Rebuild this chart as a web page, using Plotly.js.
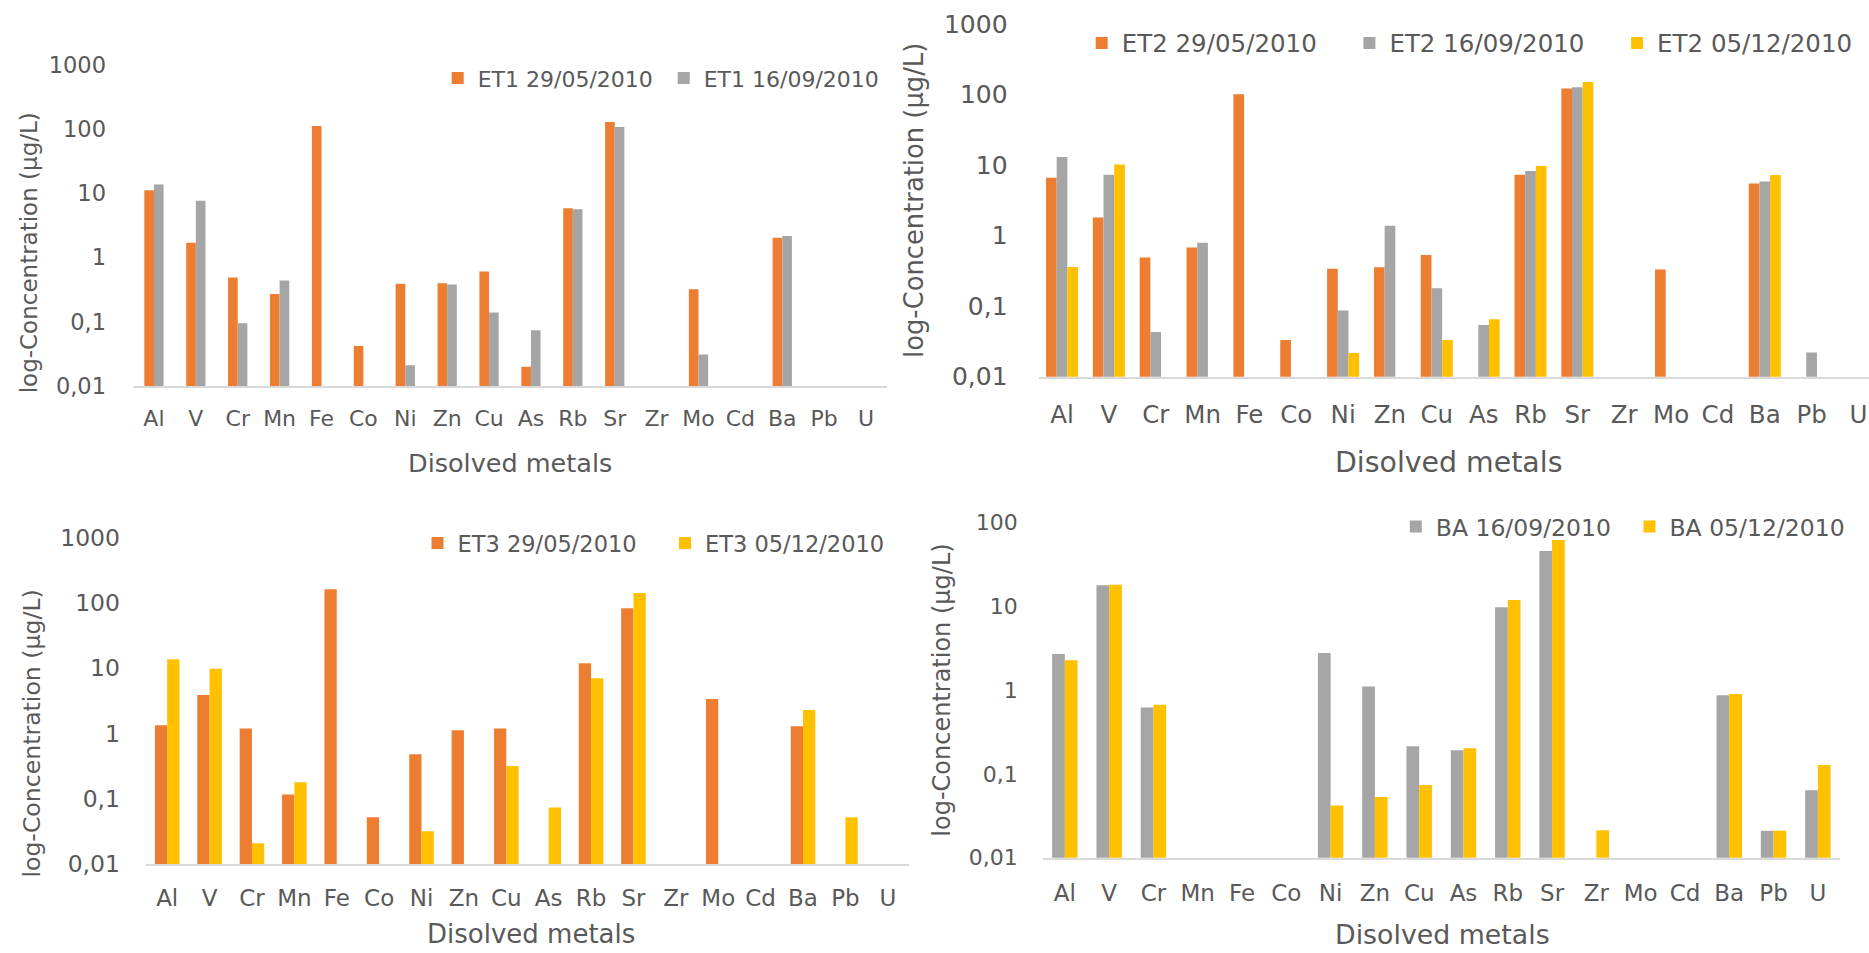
<!DOCTYPE html>
<html>
<head>
<meta charset="utf-8">
<script src="https://cdn.plot.ly/plotly-3.0.1.min.js"></script>
<style>html,body{margin:0;padding:0;background:#fff;}#chart{width:1869px;height:953px;}</style>
</head>
<body>
<div id="chart"></div>
<script>
// ---------- data ----------
const metals = ['Al','V','Cr','Mn','Fe','Co','Ni','Zn','Cu','As','Rb','Sr','Zr','Mo','Cd','Ba','Pb','U'];
const yTickVals = [0.01, 0.1, 1, 10, 100, 1000];
const yTickText = ['0,01', '0,1', '1', '10', '100', '1000'];

const et1_2905 = [11.2, 1.7, 0.49, 0.27, 112, 0.042, 0.39, 0.40, 0.61, 0.02, 5.85, 129, null, 0.32, null, 2.04, null, null];
const et1_1609 = [13.8, 7.7, 0.095, 0.44, null, null, 0.021, 0.38, 0.139, 0.074, 5.65, 108, null, 0.031, null, 2.17, null, null];

const et2_2905 = [6.6, 1.8, 0.49, 0.68, 101, 0.033, 0.34, 0.355, 0.53, null, 7.3, 122, null, 0.33, null, 5.47, null, null];
const et2_1609 = [13.0, 7.3, 0.043, 0.79, null, null, 0.087, 1.38, 0.18, 0.054, 8.26, 127, null, null, null, 5.84, 0.022, null];
const et2_0512 = [0.36, 10.2, null, null, null, null, 0.0216, null, 0.033, 0.065, 9.7, 151, null, null, null, 7.25, null, null];

const et3_2905 = [1.33, 3.86, 1.19, 0.116, 160, 0.052, 0.48, 1.11, 1.18, null, 11.8, 82, null, 3.35, null, 1.28, null, null];
const et3_0512 = [13.6, 9.77, 0.0207, 0.178, null, null, 0.0316, null, 0.316, 0.073, 6.95, 141, null, null, null, 2.28, 0.052, null];

const ba_1609 = [2.71, 17.9, 0.62, null, null, null, 2.78, 1.107, 0.214, 0.192, 9.78, 46, null, null, null, 0.87, 0.021, 0.064];
const ba_0512 = [2.28, 18.1, 0.67, null, null, null, 0.042, 0.053, 0.074, 0.203, 11.9, 62, 0.0213, null, null, 0.90, 0.021, 0.128];

// ---------- style ----------
const W = 1869, H = 953;
const ORANGE = '#ED7D31', GRAY = '#A5A5A5', YELLOW = '#FFC000';
const TXT = '#595959';
const FAM = 'DejaVu Sans, Verdana, sans-serif';
const px = v => v / W;
const py = v => 1 - v / H;

function bar(name, y, color, xa, ya, lg, width, offset, lw) {
  const t = {type: 'bar', name: name, x: metals, y: y, xaxis: xa, yaxis: ya,
    legend: lg, width: width, offset: offset,
    marker: {color: color, line: {width: 0}}, hoverinfo: 'x+y+name'};
  if (lw) t.legendwidth = lw;
  return t;
}

const data = [
  bar('ET1 29/05/2010', et1_2905, ORANGE, 'x', 'y', 'legend', 0.23, -0.23),
  bar('ET1 16/09/2010', et1_1609, GRAY, 'x', 'y', 'legend', 0.23, 0),
  bar('ET2 29/05/2010', et2_2905, ORANGE, 'x2', 'y2', 'legend2', 0.228, -0.342),
  bar('ET2 16/09/2010', et2_1609, GRAY, 'x2', 'y2', 'legend2', 0.228, -0.114),
  bar('ET2 05/12/2010', et2_0512, YELLOW, 'x2', 'y2', 'legend2', 0.228, 0.114, 196),
  bar('ET3 29/05/2010', et3_2905, ORANGE, 'x3', 'y3', 'legend3', 0.29, -0.29),
  bar('ET3 05/12/2010', et3_0512, YELLOW, 'x3', 'y3', 'legend3', 0.29, 0),
  bar('BA 16/09/2010', ba_1609, GRAY, 'x4', 'y4', 'legend4', 0.287, -0.287),
  bar('BA 05/12/2010', ba_0512, YELLOW, 'x4', 'y4', 'legend4', 0.287, 0)
];

function xax(domain, range, anchor, size, standoff) {
  return {domain: domain, range: range, anchor: anchor, type: 'category',
    categoryorder: 'array', categoryarray: metals,
    showgrid: false, zeroline: false, ticks: '', showline: true,
    linecolor: '#D9D9D9', linewidth: 2, fixedrange: true,
    tickfont: {family: FAM, size: size, color: TXT}, ticklabelstandoff: standoff};
}
function yax(domain, range, anchor, size, standoff) {
  return {domain: domain, range: range, anchor: anchor, type: 'log',
    tickmode: 'array', tickvals: yTickVals, ticktext: yTickText,
    showgrid: false, zeroline: false, ticks: '', showline: false, fixedrange: true,
    tickfont: {family: FAM, size: size, color: TXT}, ticklabelstandoff: standoff};
}
function leg(x, y, size, ew) {
  return {x: px(x), y: py(y), xanchor: 'left', yanchor: 'middle', orientation: 'h',
    bgcolor: 'rgba(0,0,0,0)', borderwidth: 0, entrywidth: ew, entrywidthmode: 'pixels',
    font: {family: FAM, size: size, color: TXT}, traceorder: 'normal'};
}
function ann(text, x, y, size, angle) {
  return {text: text, x: px(x), y: py(y), xref: 'paper', yref: 'paper',
    xanchor: 'center', yanchor: 'middle', showarrow: false, textangle: angle || 0,
    font: {family: FAM, size: size, color: TXT}};
}

const layout = {
  width: W, height: H, margin: {l: 0, r: 0, t: 0, b: 0},
  paper_bgcolor: '#fff', plot_bgcolor: 'rgba(0,0,0,0)',
  barmode: 'overlay', showlegend: true,
  font: {family: FAM, color: TXT},
  xaxis:  xax([px(133), px(887)], [-0.5, 17.5], 'y', 22, 12),
  yaxis:  yax([py(386), py(65)], [-2, 3], 'x', 22.5, 26),
  xaxis2: xax([px(1038.6), 1], [-0.5, 17.225], 'y2', 24.5, 15),
  yaxis2: yax([py(376.7), py(24)], [-2, 3], 'x2', 25, 30),
  xaxis3: xax([px(146), px(909)], [-0.5, 17.5], 'y3', 23, 12),
  yaxis3: yax([py(864), py(537.3)], [-2, 3], 'x3', 23.5, 25),
  xaxis4: xax([px(1042.7), px(1840)], [-0.5, 17.5], 'y4', 23, 14),
  yaxis4: yax([py(857.7), py(522.7)], [-2, 2], 'x4', 22, 24),
  legend:  leg(437.7, 78.3, 22, 181),
  legend2: leg(1081.7, 43, 24.5, 222.7),
  legend3: leg(417.5, 543.3, 22.5, 202.5),
  legend4: leg(1395.8, 526.7, 23.5, 188.7),
  annotations: [
    ann('log-Concentration (µg/L)', 29.3, 253, 23, -90),
    ann('log-Concentration (µg/L)', 913.3, 200.7, 25.8, -90),
    ann('log-Concentration (µg/L)', 31.6, 734, 23.6, -90),
    ann('log-Concentration (µg/L)', 941.7, 690, 24, -90),
    ann('Disolved metals', 510, 463, 25.5),
    ann('Disolved metals', 1448.5, 462.7, 28.4),
    ann('Disolved metals', 531, 934, 26),
    ann('Disolved metals', 1442, 934, 26.8)
  ]
};

Plotly.newPlot('chart', data, layout, {displayModeBar: false, staticPlot: true});
</script>
</body>
</html>
